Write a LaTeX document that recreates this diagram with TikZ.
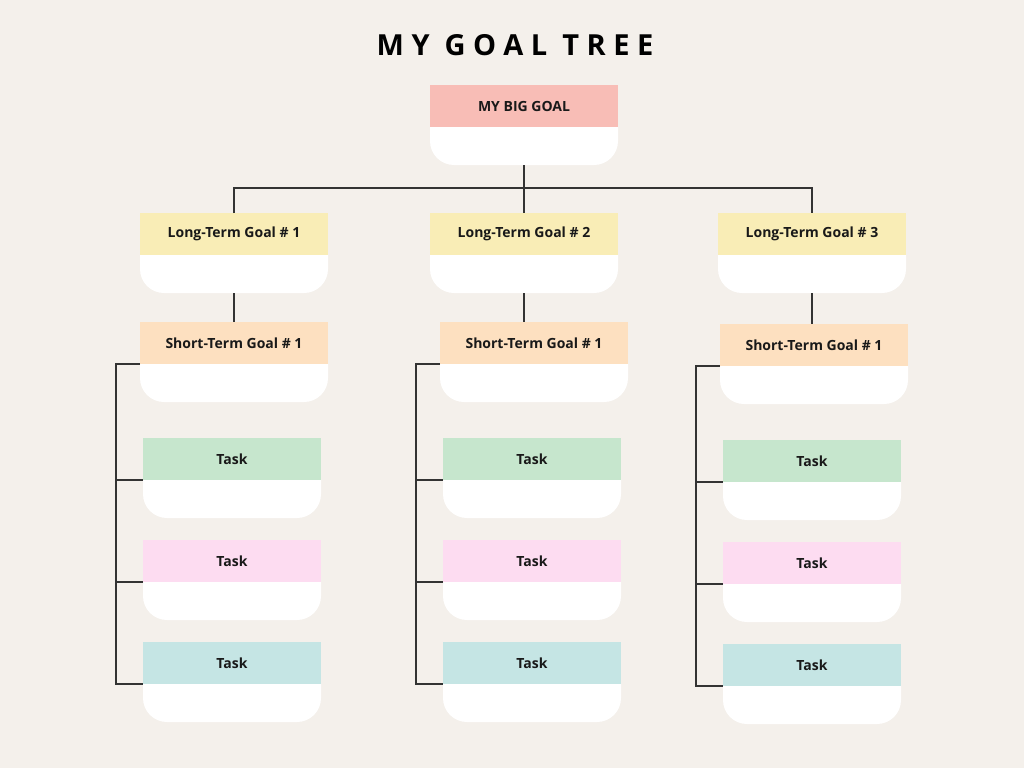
\documentclass[tikz,border=0pt]{standalone}
\usepackage{fontspec}
\setmainfont{Open Sans}
\newfontfamily\titlefont[LetterSpace=26]{Open Sans}
\usetikzlibrary{calc}
\definecolor{bg}{HTML}{F4F0EB}
\definecolor{bigc}{HTML}{F8BDB6}
\definecolor{ltc}{HTML}{F9EDB6}
\definecolor{stc}{HTML}{FDE0C0}
\definecolor{tgreen}{HTML}{C6E6CD}
\definecolor{tpink}{HTML}{FDDCF1}
\definecolor{tblue}{HTML}{C5E5E4}
\definecolor{linec}{HTML}{333333}
\tikzset{
  hdr/.style={rectangle, inner sep=0pt, outer sep=0pt, minimum height=42pt,
    font=\fontsize{14}{16}\selectfont\bfseries, text=black!90},
  conn/.style={draw=linec, line width=1.1pt}
}
\newcommand\card[6]{%
  \node[hdr, fill=#5, minimum width=#4pt] (#1) at (#2,#3+21) {#6};
  \fill[white] (#1.south west) [rounded corners=24pt] -- ++(0,38) -- ++(#4,0) [sharp corners] -- (#1.south east) -- cycle;
  \coordinate (#1-bot) at ($(#1.south)+(0,38)$);
}
\begin{document}
\begin{tikzpicture}[x=1pt,y=-1pt]
\fill[bg] (0,0) rectangle (1024,768);
\useasboundingbox (0,0) rectangle (1024,768);
\node[font=\titlefont\fontsize{29}{34}\selectfont\bfseries] (title) at (515,45) {MY GOAL TREE};
\card{big}{524}{85}{188}{bigc}{MY BIG GOAL}
\card{lt1}{234}{213}{188}{ltc}{Long-Term Goal \# 1}
\card{lt2}{524}{213}{188}{ltc}{Long-Term Goal \# 2}
\card{lt3}{812}{213}{188}{ltc}{Long-Term Goal \# 3}
\card{st1}{234}{322}{188}{stc}{Short-Term Goal \# 1}
\card{st2}{534}{322}{188}{stc}{Short-Term Goal \# 1}
\card{st3}{814}{324}{188}{stc}{Short-Term Goal \# 1}
\card{t11}{232}{438}{178}{tgreen}{Task}
\card{t12}{232}{540}{178}{tpink}{Task}
\card{t13}{232}{642}{178}{tblue}{Task}
\card{t21}{532}{438}{178}{tgreen}{Task}
\card{t22}{532}{540}{178}{tpink}{Task}
\card{t23}{532}{642}{178}{tblue}{Task}
\card{t31}{812}{440}{178}{tgreen}{Task}
\card{t32}{812}{542}{178}{tpink}{Task}
\card{t33}{812}{644}{178}{tblue}{Task}
% connectors
\coordinate (hub) at (524,188);
\draw[conn] (big-bot) -- (hub) -- (lt2.north);
\draw[conn] (lt1.north) -- (lt1.north |- hub) -- (lt3.north |- hub) -- (lt3.north);
\draw[conn] (lt1-bot) -- (lt1-bot |- st1.north);
\draw[conn] (lt2-bot) -- (lt2-bot |- st2.north);
\draw[conn] (lt3-bot) -- (lt3-bot |- st3.north);
\coordinate (bar1) at (116,0);
\coordinate (bar2) at (416,0);
\coordinate (bar3) at (696,0);
\draw[conn] (st1.south west) -- (st1.south west -| bar1) |- (t13.south west);
\draw[conn] (t11.south west) -- (t11.south west -| bar1);
\draw[conn] (t12.south west) -- (t12.south west -| bar1);
\draw[conn] (st2.south west) -- (st2.south west -| bar2) |- (t23.south west);
\draw[conn] (t21.south west) -- (t21.south west -| bar2);
\draw[conn] (t22.south west) -- (t22.south west -| bar2);
\draw[conn] (st3.south west) -- (st3.south west -| bar3) |- (t33.south west);
\draw[conn] (t31.south west) -- (t31.south west -| bar3);
\draw[conn] (t32.south west) -- (t32.south west -| bar3);
\end{tikzpicture}
\end{document}
